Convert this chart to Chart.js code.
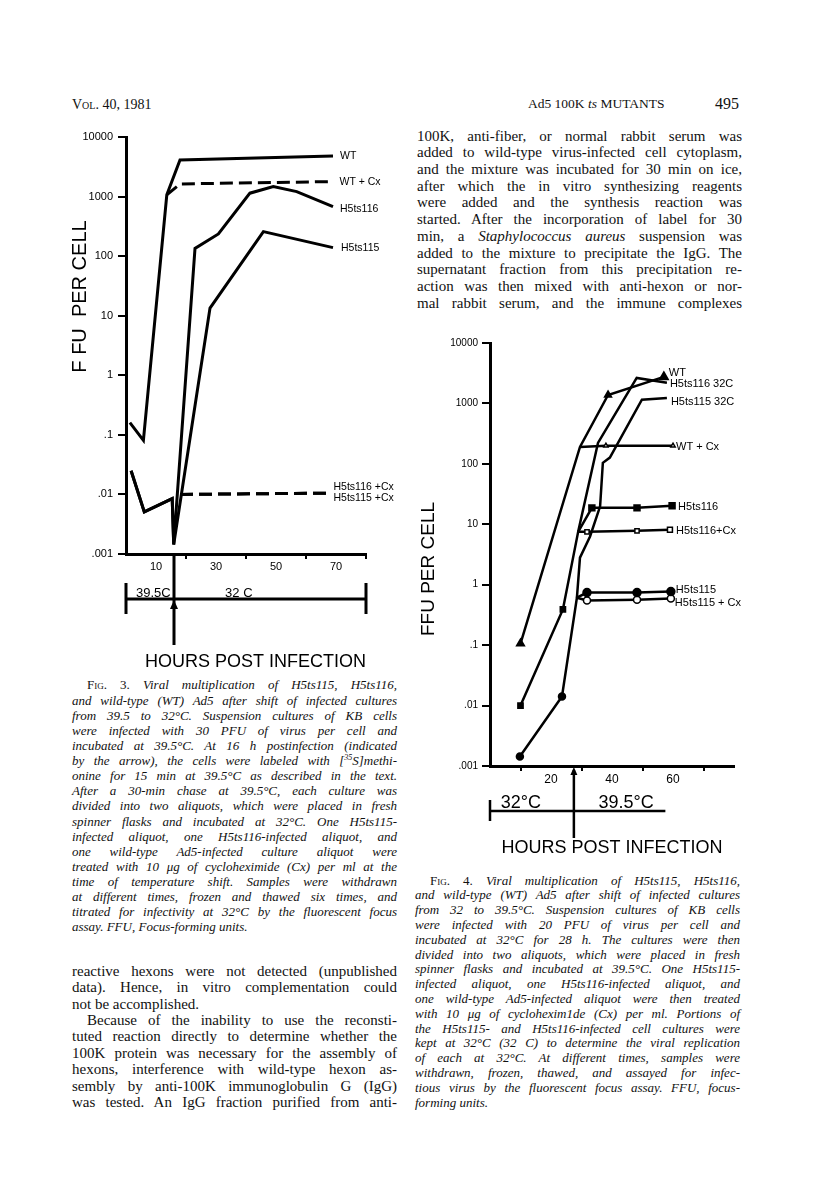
<!DOCTYPE html>
<html><head><meta charset="utf-8">
<script src="https://cdn.jsdelivr.net/npm/chart.js@4.4.1/dist/chart.umd.min.js"></script>
<style>
html,body{margin:0;padding:0;background:#fff;}
#page{position:relative;width:816px;height:1195px;overflow:hidden;background:#fff;color:#111;font-family:'Liberation Serif','Times New Roman',serif;}
.abs{position:absolute;white-space:nowrap;}
.col{position:absolute;width:325px;}
.ln{text-align:justify;text-align-last:justify;white-space:nowrap;overflow:visible;}
.ln.e{text-align-last:left;}
.body{font-size:15px;line-height:16.7px;}
.body2{font-size:15px;line-height:16.4px;}
.cap{font-style:italic;font-size:13px;}
.sc{font-style:normal;font-variant:small-caps;}
canvas{position:absolute;}
</style>
</head><body>
<div id="page">
  <div class="abs" style="left:72px;top:96px;font-size:14px;line-height:18px;"><span style="font-variant:small-caps">Vol.</span> 40, 1981</div>
  <div class="abs" style="left:528px;top:95px;font-size:13.5px;line-height:18px;">Ad5 100K <i>ts</i> MUTANTS</div>
  <div class="abs" style="left:715px;top:94px;font-size:16px;line-height:19px;">495</div>

  <div class="col body" style="left:417px;top:127.6px;">
    <div class="ln">100K, anti-fiber, or normal rabbit serum was</div>
    <div class="ln">added to wild-type virus-infected cell cytoplasm,</div>
    <div class="ln">and the mixture was incubated for 30 min on ice,</div>
    <div class="ln">after which the in vitro synthesizing reagents</div>
    <div class="ln">were added and the synthesis reaction was</div>
    <div class="ln">started. After the incorporation of label for 30</div>
    <div class="ln">min, a <i>Staphylococcus aureus</i> suspension was</div>
    <div class="ln">added to the mixture to precipitate the IgG. The</div>
    <div class="ln">supernatant fraction from this precipitation re-</div>
    <div class="ln">action was then mixed with anti-hexon or nor-</div>
    <div class="ln">mal rabbit serum, and the immune complexes</div>
  </div>

  <div class="col cap" style="left:72px;top:677.4px;line-height:15.125px;">
    <div class="ln" style="padding-left:15px;"><span class="sc">Fig. 3.</span> Viral multiplication of H5ts115, H5ts116,</div>
    <div class="ln">and wild-type (WT) Ad5 after shift of infected cultures</div>
    <div class="ln">from 39.5 to 32°C. Suspension cultures of KB cells</div>
    <div class="ln">were infected with 30 PFU of virus per cell and</div>
    <div class="ln">incubated at 39.5°C. At 16 h postinfection (indicated</div>
    <div class="ln">by the arrow), the cells were labeled with [<sup style="font-size:8px;line-height:0">35</sup>S]methi-</div>
    <div class="ln">onine for 15 min at 39.5°C as described in the text.</div>
    <div class="ln">After a 30-min chase at 39.5°C, each culture was</div>
    <div class="ln">divided into two aliquots, which were placed in fresh</div>
    <div class="ln">spinner flasks and incubated at 32°C. One H5ts115-</div>
    <div class="ln">infected aliquot, one H5ts116-infected aliquot, and</div>
    <div class="ln">one wild-type Ad5-infected culture aliquot were</div>
    <div class="ln">treated with 10 μg of cycloheximide (Cx) per ml at the</div>
    <div class="ln">time of temperature shift. Samples were withdrawn</div>
    <div class="ln">at different times, frozen and thawed six times, and</div>
    <div class="ln">titrated for infectivity at 32°C by the fluorescent focus</div>
    <div class="ln e">assay. FFU, Focus-forming units.</div>
  </div>

  <div class="col body2" style="left:72px;top:962.8px;">
    <div class="ln">reactive hexons were not detected (unpublished</div>
    <div class="ln">data). Hence, in vitro complementation could</div>
    <div class="ln e">not be accomplished.</div>
    <div class="ln" style="padding-left:15px;">Because of the inability to use the reconsti-</div>
    <div class="ln">tuted reaction directly to determine whether the</div>
    <div class="ln">100K protein was necessary for the assembly of</div>
    <div class="ln">hexons, interference with wild-type hexon as-</div>
    <div class="ln">sembly by anti-100K immunoglobulin G (IgG)</div>
    <div class="ln">was tested. An IgG fraction purified from anti-</div>
  </div>

  <div class="col cap" style="left:415px;top:873.6px;line-height:14.8px;">
    <div class="ln" style="padding-left:15px;"><span class="sc">Fig. 4.</span> Viral multiplication of H5ts115, H5ts116,</div>
    <div class="ln">and wild-type (WT) Ad5 after shift of infected cultures</div>
    <div class="ln">from 32 to 39.5°C. Suspension cultures of KB cells</div>
    <div class="ln">were infected with 20 PFU of virus per cell and</div>
    <div class="ln">incubated at 32°C for 28 h. The cultures were then</div>
    <div class="ln">divided into two aliquots, which were placed in fresh</div>
    <div class="ln">spinner flasks and incubated at 39.5°C. One H5ts115-</div>
    <div class="ln">infected aliquot, one H5ts116-infected aliquot, and</div>
    <div class="ln">one wild-type Ad5-infected aliquot were then treated</div>
    <div class="ln">with 10 μg of cyclohexim1de (Cx) per ml. Portions of</div>
    <div class="ln">the H5ts115- and H5ts116-infected cell cultures were</div>
    <div class="ln">kept at 32°C (32 C) to determine the viral replication</div>
    <div class="ln">of each at 32°C. At different times, samples were</div>
    <div class="ln">withdrawn, frozen, thawed, and assayed for infec-</div>
    <div class="ln">tious virus by the fluorescent focus assay. FFU, focus-</div>
    <div class="ln e">forming units.</div>
  </div>

  <canvas id="c3" width="400" height="560" style="left:0px;top:120px;width:400px;height:560px;"></canvas>
  <canvas id="c4" width="416" height="540" style="left:400px;top:320px;width:416px;height:540px;"></canvas>
</div>
<script>
// ---------- shared axis data ----------
const yTickVals = [0.001, 0.01, 0.1, 1, 10, 100, 1000, 10000];
const yTickLabels = ['.001', '.01', '.1', '1', '10', '100', '1000', '10000'];

// ---------- Fig. 3 data (hours post infection, FFU per cell) ----------
const f3XLabelVals = [10, 30, 50, 70];
const f3XMarkVals = [20, 40, 60, 80];
const f3ShiftH = 16;
const f3WtH = [1.3, 5.8, 13.6, 18, 69];
const f3WtV = [0.16, 0.081, 1070, 4100, 4800];
const f3WtCxH = [13.6, 18, 67.5];
const f3WtCxV = [1070, 1630, 1780];
const f3Ts116H = [1.7, 6.1, 15.4, 15.9, 23, 30.8, 41.3, 49.1, 56.9, 69];
const f3Ts116V = [0.025, 0.0051, 0.0085, 0.00144, 135, 236, 1140, 1470, 1210, 675];
const f3Ts115H = [1.7, 6.1, 15.4, 15.9, 28, 45.8, 69];
const f3Ts115V = [0.025, 0.0051, 0.0085, 0.00144, 13.4, 258, 139];
const f3CxH = [18, 67.5];
const f3Ts116CxV = [0.01, 0.0105];
const f3Ts115CxV = [0.01, 0.0105];

// ---------- Fig. 4 data ----------
const f4XLabelVals = [20, 40, 60];
const f4XMarkVals = [10, 30, 50, 70];
const f4ShiftH = 27.5;
const f4WtH = [10, 29.5, 38.7, 57];
const f4WtV = [0.106, 190, 1380, 2750];
const f4WtCxH = [29.5, 38, 60];
const f4WtCxV = [190, 200, 200];
const f4Ts116H = [10, 23.9, 28.9, 33.4, 48.2, 59.7];
const f4Ts116V = [0.01, 0.39, 7.5, 18.7, 18.7, 20.3];
const f4Ts116CxH = [28.9, 31.8, 48.2, 59];
const f4Ts116CxV = [7.5, 7.5, 7.8, 8.1];
const f4Ts116c32H = [28.9, 35.4, 48.1, 58];
const f4Ts116c32V = [7.5, 222, 2640, 2200];
const f4Ts115H = [9.8, 23.6, 28.5, 31.8, 48.2, 59.3];
const f4Ts115V = [0.00144, 0.0141, 0.61, 0.74, 0.74, 0.77];
const f4Ts115CxH = [28.5, 31.8, 48.2, 59.3];
const f4Ts115CxV = [0.61, 0.55, 0.565, 0.59];
const f4Ts115c32H = [28.5, 29.5, 32.8, 36.1, 37, 39.3, 49.8, 58];
const f4Ts115c32V = [0.61, 2.8, 6.3, 19.8, 104, 127, 1150, 1230];

function pts(h, v) { return h.map((x, i) => ({ x: x, y: v[i] })); }

const SANS = '"Liberation Sans", Arial, sans-serif';

function ds(label, h, v, opt) {
  return Object.assign({
    label: label, data: pts(h, v), borderColor: '#000', backgroundColor: '#000',
    borderWidth: 3, pointRadius: 0, tension: 0, fill: false, showLine: true
  }, opt || {});
}

function arrowUp(ctx, x, yTip, w, h) {
  ctx.beginPath(); ctx.moveTo(x, yTip); ctx.lineTo(x - w / 2, yTip + h); ctx.lineTo(x + w / 2, yTip + h); ctx.closePath(); ctx.fill();
}

function seriesLabels(chart, list, font) {
  const ctx = chart.ctx, x = chart.scales.x, y = chart.scales.y;
  ctx.font = font; ctx.textAlign = 'left'; ctx.textBaseline = 'middle'; ctx.fillStyle = '#000';
  list.forEach(l => {
    const d = chart.data.datasets[l.ds].data; const p = d[d.length - 1];
    ctx.fillText(l.text, x.getPixelForValue(p.x) + l.dx, y.getPixelForValue(p.y) + l.dy);
  });
}

// ---------- Fig. 3 ----------
const f3Labels = [
  { ds: 0, text: 'WT', dx: 7, dy: 0 },
  { ds: 1, text: 'WT + Cx', dx: 11, dy: 0 },
  { ds: 2, text: 'H5ts116', dx: 7, dy: 2 },
  { ds: 3, text: 'H5ts115', dx: 8, dy: 0 },
  { ds: 4, text: 'H5ts116 +Cx', dx: 5, dy: -6 },
  { ds: 5, text: 'H5ts115 +Cx', dx: 5, dy: 5 }
];

const annot3 = {
  id: 'annot3',
  afterDraw(chart) {
    const ctx = chart.ctx, x = chart.scales.x, y = chart.scales.y;
    const b = chart.chartArea.bottom;
    ctx.save();
    seriesLabels(chart, f3Labels, '10.5px ' + SANS);
    // temperature bar
    ctx.strokeStyle = '#000'; ctx.lineWidth = 3;
    const x0 = x.getPixelForValue(0), x1 = x.getPixelForValue(80), xs = x.getPixelForValue(f3ShiftH);
    ctx.beginPath();
    ctx.moveTo(x0, b + 45); ctx.lineTo(x1, b + 45);
    ctx.moveTo(x0, b + 29); ctx.lineTo(x0, b + 60);
    ctx.moveTo(x1, b + 29); ctx.lineTo(x1, b + 60);
    ctx.moveTo(xs, b); ctx.lineTo(xs, b + 91);
    ctx.stroke();
    arrowUp(ctx, xs, b + 46, 8, 9);
    ctx.font = '13px ' + SANS; ctx.textAlign = 'center'; ctx.textBaseline = 'middle';
    ctx.fillText('39.5C', x.getPixelForValue(9.1), b + 39);
    ctx.fillText('32 C', x.getPixelForValue(37.6), b + 39);
    // y title
    ctx.translate(80, 176.5); ctx.rotate(-Math.PI / 2);
    ctx.font = '20px ' + SANS; ctx.textAlign = 'center'; ctx.textBaseline = 'middle';
    ctx.fillText('F FU  PER CELL', 0, 0);
    ctx.restore();
  }
};

new Chart(document.getElementById('c3'), {
  type: 'line',
  data: {
    datasets: [
      ds('WT', f3WtH, f3WtV),
      ds('WT + Cx', f3WtCxH, f3WtCxV, { borderDash: [13, 6] }),
      ds('H5ts116', f3Ts116H, f3Ts116V),
      ds('H5ts115', f3Ts115H, f3Ts115V),
      ds('H5ts116 +Cx', f3CxH, f3Ts116CxV, { borderDash: [13, 6] }),
      ds('H5ts115 +Cx', f3CxH, f3Ts115CxV, { borderDash: [13, 6] })
    ]
  },
  options: {
    responsive: false, animation: false, devicePixelRatio: 1,
    layout: { padding: { left: 0, right: 34, top: 17, bottom: 0 } },
    plugins: { legend: { display: false }, tooltip: { enabled: false } },
    scales: {
      x: {
        type: 'linear', min: 0, max: 80,
        afterFit: s => { s.height = 126; },
        border: { display: true, color: '#000', width: 3 },
        grid: { display: true, drawOnChartArea: false, drawTicks: true, tickLength: 5, lineWidth: 2,
          tickColor: c => (c.tick && f3XMarkVals.includes(c.tick.value)) ? '#000' : 'rgba(0,0,0,0)' },
        ticks: { stepSize: 10, autoSkip: false, maxRotation: 0, padding: 1, color: '#000',
          font: { family: SANS, size: 11 }, callback: v => f3XLabelVals.includes(v) ? String(v) : '' },
        title: { display: true, text: 'HOURS POST INFECTION', align: 'end', color: '#000',
          font: { family: SANS, size: 18 }, padding: { top: 0, bottom: 7 } }
      },
      y: {
        type: 'logarithmic', min: 0.001, max: 10000,
        afterFit: s => { s.width = 126; },
        afterBuildTicks: s => { s.ticks = yTickVals.map(v => ({ value: v })); },
        border: { display: true, color: '#000', width: 3 },
        grid: { display: true, drawOnChartArea: false, tickLength: 8, lineWidth: 2, tickColor: '#000' },
        ticks: { padding: 5, color: '#000', font: { family: SANS, size: 11 }, callback: (v, i) => yTickLabels[i] }
      }
    }
  },
  plugins: [annot3]
});

// ---------- Fig. 4 ----------
const f4Labels = [
  { ds: 0, text: 'WT', dx: 5, dy: -4 },
  { ds: 2, text: 'H5ts116 32C', dx: 3, dy: 1 },
  { ds: 3, text: 'H5ts115 32C', dx: 4, dy: 4 },
  { ds: 1, text: 'WT + Cx', dx: 3, dy: 1 },
  { ds: 4, text: 'H5ts116', dx: 6, dy: 1 },
  { ds: 5, text: 'H5ts116+Cx', dx: 6, dy: 1 },
  { ds: 6, text: 'H5ts115', dx: 5, dy: -2 },
  { ds: 7, text: 'H5ts115 + Cx', dx: 4, dy: 4 }
];

const annot4 = {
  id: 'annot4',
  afterDraw(chart) {
    const ctx = chart.ctx, x = chart.scales.x, y = chart.scales.y;
    const b = chart.chartArea.bottom;
    ctx.save();
    seriesLabels(chart, f4Labels, '11px ' + SANS);
    ctx.strokeStyle = '#000'; ctx.lineWidth = 2.5;
    const x0 = x.getPixelForValue(0), x1 = x.getPixelForValue(57.5), xs = x.getPixelForValue(f4ShiftH);
    ctx.beginPath();
    ctx.moveTo(x0, b + 45); ctx.lineTo(x1, b + 45);
    ctx.moveTo(x0, b + 34); ctx.lineTo(x0, b + 55);
    ctx.moveTo(xs, b + 4); ctx.lineTo(xs, b + 72);
    ctx.stroke();
    arrowUp(ctx, xs, b + 1, 7, 8);
    ctx.font = '18px ' + SANS; ctx.textAlign = 'center'; ctx.textBaseline = 'middle';
    ctx.fillText('32°C', x.getPixelForValue(10.1), b + 37);
    ctx.fillText('39.5°C', x.getPixelForValue(44.6), b + 37);
    ctx.translate(29, 249); ctx.rotate(-Math.PI / 2);
    ctx.font = '19px ' + SANS; ctx.textAlign = 'center'; ctx.textBaseline = 'middle';
    ctx.fillText('FFU PER CELL', 0, 0);
    ctx.restore();
  }
};

const W = '#fff';
new Chart(document.getElementById('c4'), {
  type: 'line',
  data: {
    datasets: [
      ds('WT', f4WtH, f4WtV, { borderWidth: 2.5, pointStyle: 'triangle', pointRadius: [3.5, 0, 3, 4] }),
      ds('WT + Cx', f4WtCxH, f4WtCxV, { borderWidth: 2.5, pointStyle: 'triangle', pointRadius: [0, 2.5, 2.5], pointBackgroundColor: W, pointBorderWidth: 1.5 }),
      ds('H5ts116 32C', f4Ts116c32H, f4Ts116c32V, { borderWidth: 2.5 }),
      ds('H5ts115 32C', f4Ts115c32H, f4Ts115c32V, { borderWidth: 2.5 }),
      ds('H5ts116', f4Ts116H, f4Ts116V, { borderWidth: 2.5, pointStyle: 'rect', pointRadius: [3, 3, 0, 3.5, 3.5, 3.5] }),
      ds('H5ts116+Cx', f4Ts116CxH, f4Ts116CxV, { borderWidth: 2.5, pointStyle: 'rect', pointRadius: [0, 3, 3, 3.5], pointBackgroundColor: W, pointBorderWidth: 1.5 }),
      ds('H5ts115', f4Ts115H, f4Ts115V, { borderWidth: 2.5, pointStyle: 'circle', pointRadius: [3, 3, 0, 3.5, 3.5, 3.5] }),
      ds('H5ts115 + Cx', f4Ts115CxH, f4Ts115CxV, { borderWidth: 2.5, pointStyle: 'circle', pointRadius: [0, 3.5, 3.5, 3.5], pointBackgroundColor: W, pointBorderWidth: 1.5 })
    ]
  },
  options: {
    responsive: false, animation: false, devicePixelRatio: 1,
    layout: { padding: { left: 0, right: 82, top: 23, bottom: 0 } },
    plugins: { legend: { display: false }, tooltip: { enabled: false } },
    scales: {
      x: {
        type: 'linear', min: 0, max: 80,
        afterFit: s => { s.height = 94; },
        border: { display: true, color: '#000', width: 3 },
        grid: { display: true, drawOnChartArea: false, drawTicks: true, tickLength: 5, lineWidth: 2,
          tickColor: c => (c.tick && f4XMarkVals.includes(c.tick.value)) ? '#000' : 'rgba(0,0,0,0)' },
        ticks: { stepSize: 10, autoSkip: false, maxRotation: 0, padding: 1, color: '#000',
          font: { family: SANS, size: 12 }, callback: v => f4XLabelVals.includes(v) ? String(v) : '' },
        title: { display: true, text: 'HOURS POST INFECTION', align: 'center', color: '#000',
          font: { family: SANS, size: 18 }, padding: { top: 0, bottom: 1 } }
      },
      y: {
        type: 'logarithmic', min: 0.001, max: 10000,
        afterFit: s => { s.width = 90; },
        afterBuildTicks: s => { s.ticks = yTickVals.map(v => ({ value: v })); },
        border: { display: true, color: '#000', width: 3 },
        grid: { display: true, drawOnChartArea: false, tickLength: 8, lineWidth: 2, tickColor: '#000' },
        ticks: { padding: 4, color: '#000', font: { family: SANS, size: 10 }, callback: (v, i) => yTickLabels[i] }
      }
    }
  },
  plugins: [annot4]
});
</script>
</body></html>
